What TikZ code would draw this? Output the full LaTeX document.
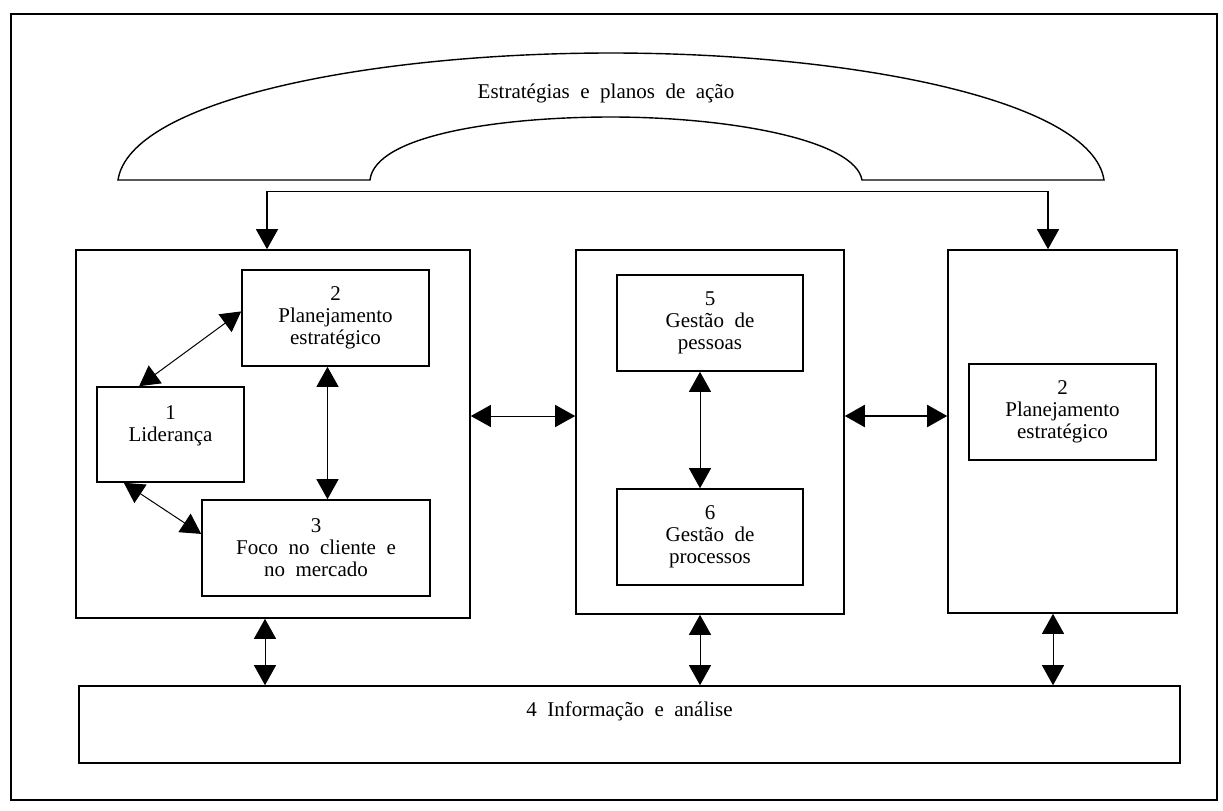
\documentclass[tikz,border=0pt]{standalone}
\usepackage{fontspec}
\setmainfont{Liberation Serif}
\usetikzlibrary{positioning,calc,arrows.meta}
\protected\def\gapwords{\spaceskip=0.5em plus 0.1em\relax}

\begin{document}
\begin{tikzpicture}[x=0.5pt, y=-0.5pt,
    every node/.style={font=\fontsize{10.5}{11}\selectfont\gapwords, text=black},
    panel/.style={draw=black, line width=0.8pt, inner sep=0pt},
    crit/.style={draw=black, line width=0.8pt, inner sep=0pt, align=center},
    twoway/.style={{Triangle[length=10pt,width=11pt]}-{Triangle[length=10pt,width=11pt]}, line width=0.5pt},
    oneway/.style={-{Triangle[length=10pt,width=11pt]}, line width=0.6pt},
  ]
        \useasboundingbox (0,0) rectangle (1223,810);

        %frame
        \draw[line width=0.7pt] (11,14) rectangle (1217,800);

        %arch
        \draw[line width=0.7pt] (118,180) .. controls (130,100) and (370,53) .. (611,53)
            .. controls (852,53) and (1092,100) .. (1104,180) -- (862,180)
            .. controls (855,140) and (730,117) .. (611,117)
            .. controls (500,117) and (375,135) .. (370,180) -- cycle;
        \node (plans) at (606,93) {Estratégias e planos de ação};

        %panels
        \node[panel, minimum width = 197pt, minimum height = 184pt] (panelL) at (273,434) {};
        \node[panel, minimum width = 134pt, minimum height = 182pt] (panelM) at (710,432) {};
        \node[panel, minimum width = 114.5pt, minimum height = 181.5pt] (panelR) at (1062.5,431.5) {};

        %left panel
        \node[crit, minimum width = 93.5pt, minimum height = 48pt] (plan) at (335.5,318) {2\\Planejamento\\estratégico};
        \node[crit, minimum width = 73.5pt, minimum height = 47.5pt] (lid) at (170.5,434.5) {1\\Liderança\\~};
        \node[crit, minimum width = 114pt, minimum height = 48pt] (foco) at (316,548) {3\\Foco no cliente e\\no mercado};

        %middle panel
        \node[crit, minimum width = 93pt, minimum height = 48pt] (pess) at (710,323) {5\\Gestão de\\pessoas};
        \node[crit, minimum width = 93pt, minimum height = 48pt] (proc) at (710,537) {6\\Gestão de\\processos};

        %right panel
        \node[crit, minimum width = 93.5pt, minimum height = 48pt] (plan2) at (1062.5,412) {2\\Planejamento\\estratégico};

        %information
        \node[crit, minimum width = 550.5pt, minimum height = 38.5pt] (info) at (629.5,724.5) {4 Informação e análise\\[4pt]~};

        %from the strategies down to the panels
        \coordinate (forkL) at ($(panelL.north)+(-6,-58)$);
        \coordinate (forkR) at ($(panelR.north)+(-14.5,-58)$);
        \draw[oneway] (forkR) -- (forkL) -- (forkL |- panelL.north);
        \draw[oneway] (forkR) -- (forkR |- panelR.north);

        \coordinate (midrow) at (0,416);

        \path[twoway]
            %inside the left panel
            (lid.123) edge (plan.176)
            (lid.226) edge (foco.173)
            ($(plan.south)+(-8,0)$) edge ($(plan.south |- foco.north)+(-8,0)$)

            %inside the middle panel
            ($(pess.south)+(-10,0)$) edge ($(proc.north)+(-10,0)$)

            %between panels
            (panelL.east |- midrow) edge (panelM.west |- midrow)

            %panels and information
            ($(panelL.south)+(-8,0)$) edge ($(panelL.south |- info.north)+(-8,0)$)
            ($(panelM.south)+(-10,0)$) edge ($(panelM.south |- info.north)+(-10,0)$)
            ($(panelR.south)+(-9.5,0)$) edge ($(panelR.south |- info.north)+(-9.5,0)$)
            ;
        \draw[twoway, line width=1pt] (panelM.east |- midrow) -- (panelR.west |- midrow);

\end{tikzpicture}
\end{document}
